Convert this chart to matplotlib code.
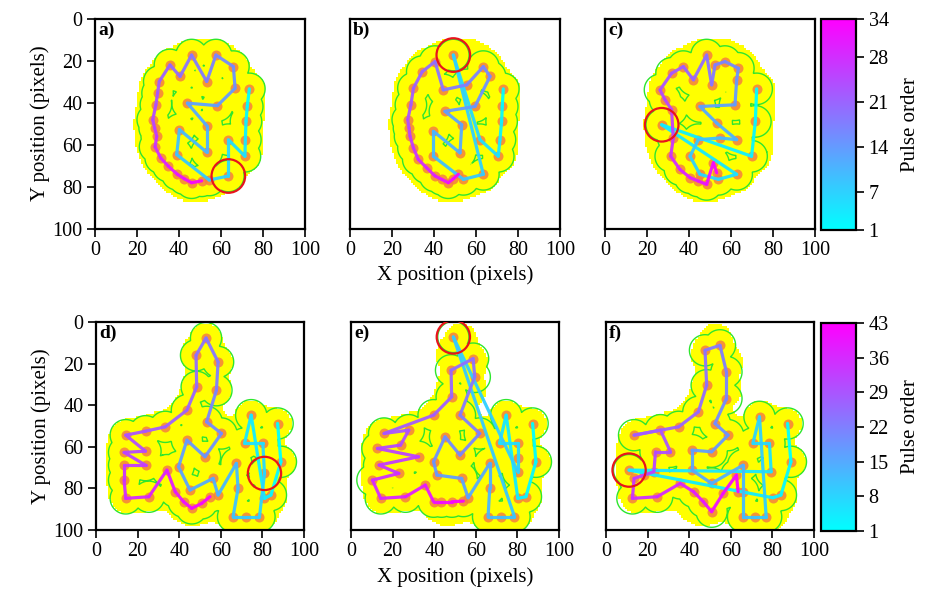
import numpy as np
import matplotlib
matplotlib.use('Agg')
import matplotlib.pyplot as plt
from matplotlib.collections import LineCollection
from matplotlib.colors import ListedColormap, Normalize
from matplotlib.patches import Circle
from matplotlib.cm import ScalarMappable

plt.rcParams['font.family'] = ['Liberation Serif', 'DejaVu Serif']

# ---------------- data (pulse positions in path order, pixels) ----------------
xa = [73.5, 72.5, 71.9, 71.6, 71.4, 63.5, 63.5, 54.4, 38.9, 40.2, 53.2, 53.2, 44.0, 58.3,
      66.7, 65.9, 57.6, 53.2, 46.0, 40.5, 35.7, 30.6, 29.8, 29.0, 27.5, 28.4, 29.4, 28.6,
      31.3, 34.9, 39.2, 42.5, 46.0, 50.8]
ya = [33.5, 41.9, 49.0, 57.7, 65.6, 57.7, 75.0, 76.9, 64.8, 52.9, 63.7, 51.0, 40.3, 41.5,
      33.2, 22.9, 17.4, 30.0, 17.4, 27.6, 22.1, 30.0, 35.5, 41.1, 48.2, 52.1, 56.1, 61.1,
      66.4, 70.3, 74.2, 76.3, 78.2, 77.3]

xb = [73.0, 72.5, 72.2, 71.4, 70.6, 61.9, 49.2, 63.5, 54.0, 39.7, 39.7, 52.4, 53.2, 45.2,
      59.5, 66.7, 63.5, 55.6, 44.4, 40.5, 34.4, 30.2, 29.0, 27.5, 28.1, 28.6, 30.2, 32.5,
      36.5, 40.5, 43.7, 46.8, 49.2, 51.6]
yb = [33.5, 41.9, 49.0, 57.7, 65.6, 57.7, 17.4, 74.2, 76.6, 65.6, 53.7, 64.0, 50.6, 44.2,
      41.9, 27.6, 22.9, 31.6, 34.0, 20.5, 25.3, 33.2, 41.1, 48.2, 52.1, 56.1, 61.6, 67.1,
      71.1, 75.0, 76.6, 78.2, 76.3, 74.2]

xc = [72.2, 71.6, 69.8, 27.0, 62.7, 54.0, 45.2, 40.5, 44.4, 54.8, 62.7, 53.2, 45.2, 61.9,
      62.7, 63.5, 57.1, 52.4, 50.8, 48.4, 42.1, 37.3, 31.7, 26.2, 28.6, 31.7, 32.5, 31.3,
      35.7, 40.5, 44.4, 48.4, 51.6, 53.2]
yc = [33.5, 49.0, 65.6, 50.6, 74.2, 76.6, 74.2, 65.6, 57.7, 56.9, 57.7, 49.8, 41.9, 41.1,
      29.2, 23.7, 20.5, 22.1, 31.6, 17.4, 29.2, 22.9, 26.1, 34.0, 38.7, 43.4, 56.9, 65.6,
      71.9, 75.8, 77.4, 79.0, 68.7, 73.5]

xd = [87.3, 88.9, 84.1, 81.0, 74.6, 71.4, 80.2, 81.0, 78.6, 72.2, 65.9, 68.3, 67.5, 58.7,
      56.3, 45.2, 39.7, 43.7, 52.4, 60.3, 53.2, 57.9, 58.7, 52.9, 48.1, 48.4, 43.7, 33.3,
      23.8, 14.3, 23.8, 13.5, 23.8, 13.5, 13.5, 14.3, 25.4, 34.1, 38.1, 42.1, 46.0, 50.8,
      54.8]
yd = [48.8, 67.2, 83.2, 84.8, 44.8, 58.4, 58.4, 72.8, 93.6, 93.6, 93.6, 80.0, 68.0, 83.2,
      75.2, 80.8, 69.6, 56.8, 64.8, 53.6, 48.0, 32.8, 19.2, 7.7, 16.0, 31.2, 42.4, 50.4,
      52.5, 54.4, 62.1, 62.7, 68.8, 68.8, 76.0, 84.8, 84.0, 71.2, 81.6, 86.4, 89.6, 87.2,
      84.0]

xe = [87.3, 88.9, 84.1, 80.2, 74.6, 71.4, 80.2, 80.2, 80.2, 49.2, 78.6, 72.2, 65.9, 66.7,
      66.7, 56.3, 53.2, 41.3, 39.7, 45.2, 52.4, 61.9, 52.4, 59.5, 58.7, 48.1, 48.4, 39.7,
      15.9, 27.8, 23.8, 12.7, 32.5, 13.5, 23.0, 10.3, 14.3, 26.2, 35.7, 39.7, 43.5, 48.5,
      54.0]
ye = [48.8, 67.2, 84.0, 84.8, 44.8, 58.4, 58.4, 65.6, 72.0, 7.2, 93.6, 93.6, 93.6, 80.0,
      68.0, 84.5, 75.2, 73.6, 67.2, 55.2, 64.0, 53.6, 44.8, 26.4, 17.6, 23.2, 36.0, 44.8,
      53.6, 52.0, 59.2, 60.8, 64.8, 68.8, 72.8, 76.0, 84.8, 84.0, 78.4, 86.4, 86.4, 86.4,
      86.1]

xf = [87.3, 88.9, 84.1, 80.2, 11.1, 79.4, 78.6, 70.6, 73.8, 77.0, 71.4, 65.9, 65.9, 65.9,
      50.8, 41.3, 41.3, 50.8, 58.7, 52.4, 57.9, 57.9, 54.8, 47.6, 48.4, 44.4, 34.9, 13.5,
      26.2, 31.0, 23.8, 23.0, 18.3, 13.5, 12.7, 24.6, 35.7, 42.1, 46.8, 50.8, 56.3, 62.7,
      63.5]
yf = [48.8, 67.2, 83.2, 84.5, 71.2, 72.0, 58.4, 58.4, 45.6, 93.6, 93.6, 93.6, 81.6, 68.8,
      77.6, 71.2, 61.6, 62.4, 54.4, 48.8, 36.8, 24.0, 11.2, 13.6, 30.4, 43.2, 50.4, 54.4,
      52.0, 62.4, 62.4, 72.0, 73.6, 75.2, 84.8, 84.0, 77.6, 81.6, 86.4, 91.2, 82.4, 73.6,
      81.6]

panel_labels = ['a)', 'b)', 'c)', 'd)', 'e)', 'f)']
marked_pulse = [7, 7, 4, 8, 10, 5]          # pulse inside the red circle
axis_ticks = [0, 20, 40, 60, 80, 100]
cbar_ticks_top = [1, 7, 14, 21, 28, 34]
cbar_ticks_bottom = [1, 8, 15, 22, 29, 36, 43]
n_top, n_bottom = 34, 43

# ---------------- styling ----------------
W, H = 925, 602
spot_r = 7.5        # laser spot radius (green outline)
circ_r = 8.0
cmap = plt.get_cmap('cool')
yellow_cmap = ListedColormap([(1, 1, 1, 0), (1, 1, 0, 1)])

fig = plt.figure(figsize=(W / 100, H / 100), dpi=100)


def ax_rect(left, top, w, h):
    return [left / W, 1 - (top + h) / H, w / W, h / H]


def target_mask(px, py):
    g = np.arange(0.5, 100, 1.0)
    X, Y = np.meshgrid(g, g)
    px = np.asarray(px); py = np.asarray(py)
    d2 = (X[..., None] - px) ** 2 + (Y[..., None] - py) ** 2
    field = np.exp(-d2 / (2 * 5.0 ** 2)).sum(-1)
    return (field > 0.38).astype(float)


def min_dist(px, py):
    g = np.linspace(0, 100, 401)
    X, Y = np.meshgrid(g, g)
    px = np.asarray(px); py = np.asarray(py)
    d = np.sqrt((X[..., None] - px) ** 2 + (Y[..., None] - py) ** 2).min(-1)
    return X, Y, d


rows = [
    dict(top=18, h=211, sets=[(xa, ya), (xb, yb), (xc, yc)], n=n_top,
         ticks=cbar_ticks_top, target=(xa, ya)),
    dict(top=322, h=208, sets=[(xd, yd), (xe, ye), (xf, yf)], n=n_bottom,
         ticks=cbar_ticks_bottom, target=(xd, yd)),
]
lefts = [95, 350, 605]

k = 0
for r, row in enumerate(rows):
    mask = target_mask(*row['target'])
    norm = Normalize(1, row['n'])
    for c in range(3):
        ax = fig.add_axes(ax_rect(lefts[c], row['top'], 210, row['h']))
        px, py = row['sets'][c]
        px = np.asarray(px); py = np.asarray(py)
        ax.imshow(mask, cmap=yellow_cmap, vmin=0, vmax=1, extent=(0, 100, 100, 0),
                  interpolation='nearest', zorder=1)
        X, Y, D = min_dist(px, py)
        ax.contour(X, Y, D, levels=[spot_r], colors='#2ee62e', linewidths=1.0, zorder=2)
        ax.plot(px, py, 'o', color='#f5803e', ms=7.2, mec='none', alpha=0.85, zorder=3)
        pts = np.column_stack([px, py])
        segs = np.stack([pts[:-1], pts[1:]], axis=1)
        order = np.arange(1, len(px))
        lc = LineCollection(segs, cmap=cmap, norm=norm, linewidths=2.3, zorder=4,
                            capstyle='round', joinstyle='round', alpha=0.95)
        lc.set_array(order.astype(float))
        ax.add_collection(lc)
        m = marked_pulse[k] - 1
        ax.add_patch(Circle((px[m], py[m]), circ_r, fill=False, ec='#e8141c',
                            lw=1.6, zorder=5))
        ax.set_xlim(0, 100)
        ax.set_ylim(100, 0)
        ax.set_xticks(axis_ticks)
        ax.set_yticks(axis_ticks)
        ax.tick_params(direction='out', length=6, width=1.2, labelsize=14.5, pad=3)
        if c > 0:
            ax.tick_params(axis='y', left=False, labelleft=False)
        else:
            ax.set_ylabel('Y position (pixels)', fontsize=15, labelpad=2)
        if c == 1:
            ax.set_xlabel('X position (pixels)', fontsize=15, labelpad=4)
        for s in ax.spines.values():
            s.set_linewidth(1.6)
        ax.text(0.015, 0.985, panel_labels[k], transform=ax.transAxes, ha='left',
                va='top', fontsize=14, fontweight='bold', zorder=6)
        k += 1
    cax = fig.add_axes(ax_rect(821, row['top'] + 1, 35, row['h']))
    cb = fig.colorbar(ScalarMappable(norm=norm, cmap=cmap), cax=cax)
    cb.set_ticks(row['ticks'])
    cb.outline.set_linewidth(1.6)
    cax.tick_params(direction='out', length=6, width=1.2, labelsize=14.5, pad=3)
    cb.set_label('Pulse order', fontsize=15, labelpad=9)

fig.savefig('out.png', dpi=100)
